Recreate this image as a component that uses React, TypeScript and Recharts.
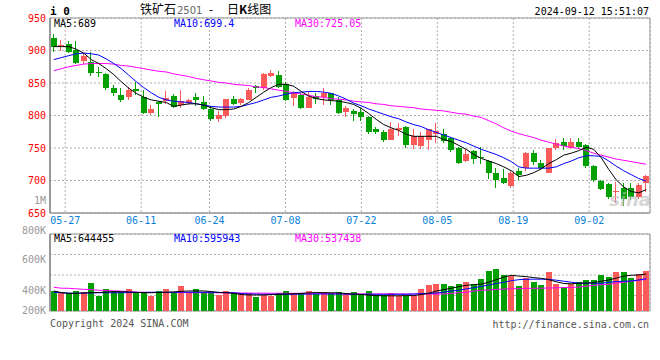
import React from "react";
import { ComposedChart, Bar, Line, XAxis, YAxis, CartesianGrid, ReferenceArea } from "recharts";

// trading days 2024-05-23 .. 2024-09-12
const dates = [
  "05-23", "05-24", "05-27", "05-28", "05-29", "05-30", "05-31",
  "06-03", "06-04", "06-05", "06-06", "06-07", "06-11", "06-12", "06-13", "06-14",
  "06-17", "06-18", "06-19", "06-20", "06-21", "06-24", "06-25", "06-26", "06-27", "06-28",
  "07-01", "07-02", "07-03", "07-04", "07-05", "07-08", "07-09", "07-10", "07-11", "07-12",
  "07-15", "07-16", "07-17", "07-18", "07-19", "07-22", "07-23", "07-24", "07-25", "07-26",
  "07-29", "07-30", "07-31", "08-01", "08-02", "08-05", "08-06", "08-07", "08-08", "08-09",
  "08-12", "08-13", "08-14", "08-15", "08-16", "08-19", "08-20", "08-21", "08-22", "08-23",
  "08-26", "08-27", "08-28", "08-29", "08-30", "09-02", "09-03", "09-04", "09-05", "09-06",
  "09-09", "09-10", "09-11", "09-12",
];

const opens = [
  919, 907, 910, 901, 884, 883, 867, 864, 843, 832, 829, 841, 829, 804, 821, 822, 830, 816, 820, 829,
  821, 810, 795, 800, 825, 820, 824, 845, 842, 861, 862, 849, 827, 831, 812, 830, 828, 835, 824, 806,
  807, 805, 798, 779, 775, 763, 778, 782, 755, 753, 763, 771, 771, 766, 750, 730, 746, 736, 730, 712,
  704, 692, 714, 719, 742, 727, 712, 750, 759, 750, 760, 755, 723, 699, 694, 683, 688, 689, 674, 696,
];
const highs = [
  926, 916, 914, 915, 896, 897, 874, 866, 847, 843, 844, 852, 839, 816, 823, 837, 833, 840, 826, 835,
  830, 814, 807, 826, 830, 827, 842, 847, 865, 870, 868, 852, 837, 834, 838, 834, 843, 835, 829, 815,
  810, 811, 799, 783, 778, 790, 788, 784, 779, 775, 779, 789, 780, 767, 752, 749, 747, 752, 732, 719,
  718, 714, 719, 744, 747, 732, 750, 764, 765, 765, 766, 756, 724, 701, 696, 698, 696, 696, 696, 709,
];
const lows = [
  898, 900, 896, 880, 880, 861, 860, 839, 830, 821, 824, 831, 803, 801, 797, 818, 811, 812, 816, 814,
  808, 792, 790, 796, 816, 816, 824, 835, 840, 860, 843, 823, 815, 810, 812, 818, 816, 816, 803, 797,
  792, 792, 772, 771, 760, 762, 769, 750, 749, 749, 747, 758, 758, 744, 726, 729, 725, 726, 703, 689,
  695, 688, 701, 715, 724, 716, 712, 747, 747, 748, 749, 720, 698, 685, 671, 666, 661, 670, 672, 683,
];
const closes = [
  905, 909, 898, 881, 892, 865, 865, 843, 834, 824, 839, 838, 804, 810, 818, 827, 813, 822, 824, 824,
  810, 795, 801, 825, 818, 825, 840, 843, 864, 866, 844, 824, 834, 811, 829, 826, 835, 824, 804, 812,
  803, 798, 774, 774, 762, 780, 781, 755, 768, 768, 779, 776, 761, 747, 727, 741, 733, 734, 712, 701,
  696, 712, 709, 743, 729, 719, 750, 758, 753, 760, 752, 723, 701, 687, 675, 684, 671, 674, 693, 707,
];

const ma5 = [
  906, 906, 906, 902, 896, 886, 880, 872, 863, 852, 842, 834, 828, 824, 822, 820, 814, 816, 818, 818,
  816, 812, 809, 809, 810, 814, 820, 828, 836, 843, 848, 848, 845, 837, 830, 826, 824, 823, 822, 820,
  817, 811, 803, 794, 786, 781, 777, 771, 768, 768, 768, 768, 763, 760, 754, 748, 740, 734, 730, 726,
  721, 715, 706, 708, 712, 718, 726, 732, 739, 742, 746, 751, 748, 735, 717, 701, 690, 683, 681, 686,
];
const ma10 = [
  886, 889, 892, 895, 896, 895, 893, 887, 880, 872, 862, 852, 843, 835, 828, 824, 822, 821, 820, 818,
  816, 814, 813, 813, 813, 814, 817, 820, 824, 828, 830, 833, 835, 836, 837, 837, 836, 834, 830, 825,
  819, 815, 810, 806, 802, 798, 795, 790, 786, 783, 778, 774, 770, 766, 762, 758, 753, 748, 744, 740,
  735, 729, 721, 719, 719, 719, 719, 721, 726, 730, 735, 738, 738, 737, 730, 722, 715, 709, 703, 699,
];
const ma30 = [
  869, 872, 875, 877, 879, 880, 880, 880, 879, 877, 876, 874, 872, 870, 868, 867, 864, 862, 860, 857,
  855, 853, 851, 850, 848, 847, 846, 844, 843, 841, 839, 837, 835, 833, 831, 829, 828, 826, 825, 824,
  822, 821, 820, 818, 817, 815, 814, 813, 812, 810, 809, 808, 807, 805, 803, 802, 799, 797, 792, 787,
  781, 776, 772, 769, 766, 762, 759, 756, 753, 751, 749, 746, 742, 739, 736, 733, 731, 729, 727, 725,
];

// volume, thousands
const volumesK = [
  248, 232, 228, 248, 232, 326, 196, 264, 242, 232, 264, 232, 232, 199, 248, 264, 228, 296, 232, 264,
  238, 232, 206, 248, 222, 222, 228, 189, 206, 199, 222, 248, 222, 222, 248, 216, 238, 222, 238, 222,
  238, 213, 245, 206, 206, 228, 196, 196, 196, 264, 303, 313, 313, 294, 313, 335, 310, 362, 440, 462,
  401, 391, 294, 368, 335, 303, 430, 313, 281, 313, 330, 352, 352, 401, 381, 430, 430, 374, 410, 440,
];
const volMa5K = [
  245, 230, 222, 222, 225, 228, 230, 235, 238, 238, 236, 232, 228, 228, 230, 232, 236, 242, 245, 245,
  245, 240, 230, 228, 222, 210, 206, 206, 206, 210, 213, 216, 218, 222, 226, 230, 228, 228, 226, 220,
  215, 210, 205, 200, 198, 198, 198, 200, 200, 210, 222, 245, 258, 271, 287, 300, 307, 312, 330, 355,
  380, 398, 390, 385, 375, 368, 355, 335, 318, 315, 320, 323, 326, 340, 352, 370, 390, 398, 401, 410,
];
const volMa10K = [
  232, 228, 224, 222, 225, 226, 228, 228, 228, 228, 229, 230, 231, 232, 232, 232, 232, 233, 233, 233,
  233, 232, 232, 230, 228, 220, 216, 214, 213, 213, 213, 213, 213, 214, 215, 216, 216, 216, 216, 214,
  213, 213, 213, 213, 213, 213, 213, 213, 215, 220, 222, 225, 233, 245, 252, 265, 277, 290, 303, 318,
  330, 345, 355, 359, 360, 360, 358, 350, 340, 330, 322, 320, 320, 320, 330, 336, 340, 342, 352, 365,
];
const volMa30K = [
  281, 272, 271, 266, 261, 258, 252, 250, 246, 244, 238, 234, 232, 231, 231, 230, 230, 229, 229, 228,
  228, 227, 227, 226, 226, 225, 225, 224, 224, 223, 223, 223, 222, 222, 222, 222, 221, 220, 218, 217,
  216, 216, 216, 216, 216, 216, 216, 216, 216, 216, 216, 216, 216, 222, 228, 232, 245, 252, 255, 260,
  264, 266, 268, 270, 271, 272, 274, 276, 278, 280, 283, 292, 300, 306, 310, 322, 330, 340, 350, 358,
];

const priceTicks = [650, 700, 750, 800, 850, 900, 950];
const volTicks = [200000, 400000, 600000, 800000];
const dateTickIdx = [2, 12, 21, 31, 41, 51, 61, 71];

const priceLegend = [
  { label: "MA5:689", color: "#000000", x: 54 },
  { label: "MA10:699.4", color: "#0000ff", x: 174 },
  { label: "MA30:725.05", color: "#ff00ff", x: 295 },
];
const volLegend = [
  { label: "MA5:644455", color: "#000000", x: 54 },
  { label: "MA10:595943", color: "#0000ff", x: 174 },
  { label: "MA30:537438", color: "#ff00ff", x: 295 },
];

const UP = "#fa5a5a";
const DOWN = "#00a000";
const MONO = '"DejaVu Sans Mono", "Liberation Mono", monospace';
const CJK = '"Noto Sans CJK SC", sans-serif';

const rows = dates.map((date, i) => ({
  idx: i,
  date,
  open: opens[i],
  high: highs[i],
  low: lows[i],
  close: closes[i],
  ma5: ma5[i],
  ma10: ma10[i],
  ma30: ma30[i],
  vol: volumesK[i] * 1000,
  vma5: volMa5K[i] * 1000,
  vma10: volMa10K[i] * 1000,
  vma30: volMa30K[i] * 1000,
}));

function Candle(props: any) {
  const { x, y, width, height, payload } = props;
  if (!payload) return null;
  const { open, close, high, low } = payload;
  const color = close >= open ? UP : DOWN;
  const py = (p: number) => (high === low ? y : y + ((high - p) / (high - low)) * height);
  const top = py(Math.max(open, close));
  const bot = py(Math.min(open, close));
  const bx = Math.floor(x);
  return (
    <g shapeRendering="crispEdges">
      <rect x={bx + 2} y={y} width={1} height={Math.max(height, 1)} fill={color} />
      <rect x={bx} y={top} width={Math.round(width)} height={Math.max(bot - top, 1)} fill={color} />
    </g>
  );
}

function VolBar(props: any) {
  const { x, y, width, height, payload } = props;
  if (!payload) return null;
  const color = payload.close >= payload.open ? UP : DOWN;
  return (
    <rect x={Math.floor(x)} y={y} width={Math.round(width)} height={height} fill={color} shapeRendering="crispEdges" />
  );
}

const volLabelShift: Record<number, number> = { 800000: -4, 600000: 5, 400000: 15, 200000: 15 };

function VolTick(props: any) {
  const { x, y, payload } = props;
  return (
    <text x={x} y={y + (volLabelShift[payload.value] || 0)} dy="0.355em" textAnchor="end" fill="#999" fontSize={10} fontFamily={MONO}>
      {`${payload.value / 1000}K`}
    </text>
  );
}

export default function App() {
  return (
    <div style={{ position: "relative", width: 660, height: 360, background: "#fff", fontFamily: MONO }}>
      <style>{"body{margin:0}"}</style>

      <div style={{ position: "absolute", left: 0, top: 0 }}>
        <ComposedChart width={660} height={232} data={rows} margin={{ top: 18, right: 10, bottom: 0, left: 0 }}>
          <CartesianGrid xAxisId="t" stroke="#b0b0b0" strokeDasharray="2 2" />
          <XAxis xAxisId="c" dataKey="date" type="category" hide height={0} />
          <XAxis
            xAxisId="t"
            dataKey="idx"
            type="number"
            domain={[0, 79]}
            ticks={dateTickIdx}
            interval={0}
            tickFormatter={(v: number) => dates[v]}
            tickLine={false}
            tickSize={0}
            tickMargin={4}
            height={19}
            axisLine={{ stroke: "#999" }}
            tick={{ fill: "#0a7fd9", fontSize: 10, fontFamily: MONO }}
          />
          <YAxis
            domain={[650, 950]}
            ticks={priceTicks}
            interval={0}
            width={50}
            tickLine={false}
            tickSize={0}
            tickMargin={4}
            axisLine={{ stroke: "#999", strokeWidth: 2 }}
            tick={{ fill: "#ff0000", fontSize: 10, fontFamily: MONO }}
          />
          <ReferenceArea xAxisId="t" x1={0} x2={79} y1={650} y2={950} fill="none" stroke="#999" />
          <Bar xAxisId="c" dataKey={(d: any) => [d.low, d.high]} barSize={6} shape={<Candle />} isAnimationActive={false} />
          <Line xAxisId="c" dataKey="ma30" stroke="#ff00ff" strokeWidth={1} dot={false} isAnimationActive={false} />
          <Line xAxisId="c" dataKey="ma10" stroke="#0000ff" strokeWidth={1} dot={false} isAnimationActive={false} />
          <Line xAxisId="c" dataKey="ma5" stroke="#000000" strokeWidth={1} dot={false} isAnimationActive={false} />
        </ComposedChart>
      </div>

      <div style={{ position: "absolute", left: 0, top: 220 }}>
        <ComposedChart width={660} height={96} data={rows} margin={{ top: 14, right: 10, bottom: 5, left: 0 }}>
          <CartesianGrid xAxisId="t" stroke="#b0b0b0" strokeDasharray="2 2" />
          <XAxis xAxisId="c" dataKey="date" type="category" hide height={0} />
          <XAxis
            xAxisId="t"
            dataKey="idx"
            type="number"
            domain={[0, 79]}
            ticks={dateTickIdx}
            interval={0}
            height={0}
            tick={false}
            tickLine={false}
            axisLine={{ stroke: "#999" }}
          />
          <YAxis
            domain={[50000, 800000]}
            ticks={volTicks}
            interval={0}
            width={50}
            tickLine={false}
            tickSize={0}
            tickMargin={4}
            axisLine={{ stroke: "#999", strokeWidth: 2 }}
            tick={<VolTick />}
          />
          <ReferenceArea xAxisId="t" x1={0} x2={79} y1={50000} y2={800000} fill="none" stroke="#999" />
          <Bar xAxisId="c" dataKey="vol" barSize={6} shape={<VolBar />} isAnimationActive={false} />
          <Line xAxisId="c" dataKey="vma30" stroke="#ff00ff" strokeWidth={1} dot={false} isAnimationActive={false} />
          <Line xAxisId="c" dataKey="vma10" stroke="#0000ff" strokeWidth={1} dot={false} isAnimationActive={false} />
          <Line xAxisId="c" dataKey="vma5" stroke="#000000" strokeWidth={1} dot={false} isAnimationActive={false} />
        </ComposedChart>
      </div>

      <svg width={660} height={360} style={{ position: "absolute", left: 0, top: 0, pointerEvents: "none" }}>
        <text x={50} y={15} fontSize={11} fontWeight="bold" fontFamily={MONO} fill="#000">i 0</text>
        <text x={140} y={14} fontSize={12} fontFamily={CJK} fill="#000">铁矿石</text>
        <text x={177} y={14} fontSize={10} fontFamily='"DejaVu Sans", sans-serif' fill="#666">2501</text>
        <text x={209} y={14} fontSize={12} fontFamily={CJK} fill="#000">-</text>
        <text x={227} y={14} fontSize={12} fontFamily={CJK} fill="#000">日<tspan fontWeight="bold">K</tspan>线图</text>
        <text x={649} y={15} fontSize={10} fontFamily={MONO} fill="#000" textAnchor="end">2024-09-12 15:51:07</text>
        {priceLegend.map((l) => (
          <text key={l.label} x={l.x} y={27} fontSize={10} fontFamily={MONO} fill={l.color}>{l.label}</text>
        ))}
        {volLegend.map((l) => (
          <text key={l.label} x={l.x} y={242} fontSize={10} fontFamily={MONO} fill={l.color}>{l.label}</text>
        ))}
        <text x={46} y={203.5} fontSize={10} fontFamily={MONO} fill="#999" textAnchor="end">1M</text>
        <text x={651} y={206} fontSize={18} fontStyle="italic" fontWeight="bold" fontFamily='"DejaVu Sans", sans-serif' fill="#bbb" opacity={0.6} textAnchor="end">sina</text>
        <text x={50} y={327} fontSize={10} fontFamily={MONO} fill="#555">Copyright 2024 SINA.COM</text>
        <text x={649} y={328} fontSize={10} fontFamily={MONO} fill="#555" textAnchor="end">http://finance.sina.com.cn</text>
      </svg>
    </div>
  );
}
